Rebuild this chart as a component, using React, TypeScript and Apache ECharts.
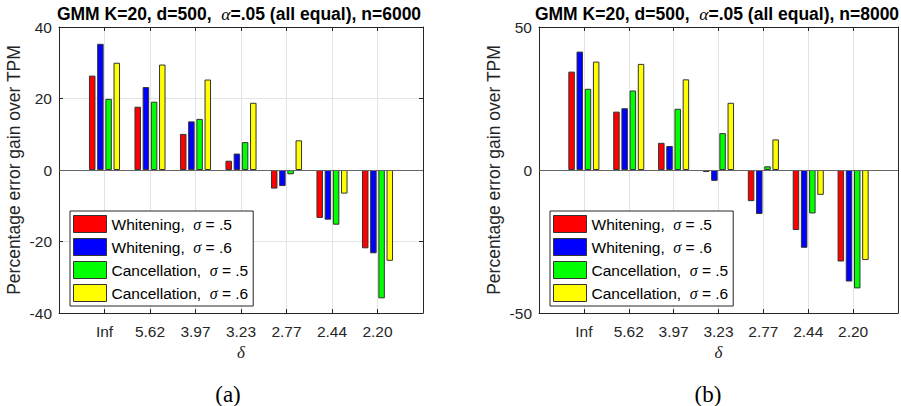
import React, { useEffect, useRef } from "react";
import * as echarts from "echarts";

const categories = ["Inf", "5.62", "3.97", "3.23", "2.77", "2.44", "2.20"];
const seriesNames = ["Whitening, σ = .5", "Whitening, σ = .6", "Cancellation, σ = .5", "Cancellation, σ = .6"];
const seriesColors = ["#ff0000", "#0000ff", "#00ff00", "#ffff00"];

// panel (a): n = 6000
const whitening05_n6000 = [26.4, 17.7, 10.1, 2.6, -5.2, -13.4, -21.9];
const whitening06_n6000 = [35.3, 23.2, 13.6, 4.6, -4.5, -13.9, -23.3];
const cancellation05_n6000 = [19.9, 19.1, 14.3, 7.8, -1.2, -15.3, -35.9];
const cancellation06_n6000 = [30.0, 29.5, 25.3, 18.8, 8.3, -6.6, -25.4];

// panel (b): n = 8000
const whitening05_n8000 = [34.4, 20.4, 9.5, -0.7, -10.9, -21.0, -32.0];
const whitening06_n8000 = [41.4, 21.6, 8.4, -3.8, -15.4, -27.2, -39.0];
const cancellation05_n8000 = [28.4, 27.8, 21.4, 12.9, 1.3, -15.2, -41.4];
const cancellation06_n8000 = [37.9, 37.1, 31.7, 23.5, 10.7, -8.7, -31.5];

const titleA = "GMM K=20, d=500,  {a|α}=.05 (all equal), n=6000";
const titleB = "GMM K=20, d=500,  {a|α}=.05 (all equal), n=8000";
const yAxisTitle = "Percentage error gain over TPM";
const xAxisTitle = "δ";

const SANS = "'Liberation Sans', Arial, Helvetica, sans-serif";
const SERIF = "'Liberation Serif', 'Times New Roman', serif";
const AX = "#262626";
const GRIDC = "#e3e3e3";

export default function App() {
  const ref = useRef<HTMLDivElement>(null);
  useEffect(() => {
    if (!ref.current) return;
    const chart = echarts.init(ref.current, null, { renderer: "svg" });
    const padded = ["", ...categories, ""];
    const panels = [
      { left: 59, ymin: -40, ymax: 40, yint: 20, data: [whitening05_n6000, whitening06_n6000, cancellation05_n6000, cancellation06_n6000], legendLeft: 70 },
      { left: 539, ymin: -50, ymax: 50, yint: 50, data: [whitening05_n8000, whitening06_n8000, cancellation05_n8000, cancellation06_n8000], legendLeft: 550 },
    ];
    const grid: any[] = [];
    const xAxis: any[] = [];
    const yAxis: any[] = [];
    const series: any[] = [];
    const legend: any[] = [];
    panels.forEach((p, g) => {
      grid.push({ left: p.left, top: 27, width: 364, height: 286, containLabel: false });
      xAxis.push({
        gridIndex: g, type: "category", data: padded, boundaryGap: false, position: "bottom",
        axisLine: { onZero: false, lineStyle: { color: AX, width: 1 } },
        axisTick: { inside: true, length: 4, interval: 0, lineStyle: { color: AX } },
        axisLabel: { interval: 0, color: AX, fontSize: 15.5, fontFamily: SANS, margin: 10 },
        splitLine: { show: true, interval: 0, lineStyle: { color: GRIDC, width: 1 } },
        name: xAxisTitle, nameLocation: "middle", nameGap: 31,
        nameTextStyle: { fontFamily: SERIF, fontStyle: "italic", fontSize: 17, color: AX },
      });
      xAxis.push({
        gridIndex: g, type: "category", data: padded, boundaryGap: false, position: "top",
        axisLine: { onZero: false, lineStyle: { color: AX, width: 1 } },
        axisTick: { inside: true, length: 4, interval: 0, lineStyle: { color: AX } },
        axisLabel: { show: false }, splitLine: { show: false },
      });
      yAxis.push({
        gridIndex: g, type: "value", min: p.ymin, max: p.ymax, interval: p.yint, position: "left",
        axisLine: { show: true, onZero: false, lineStyle: { color: AX, width: 1 } },
        axisTick: { show: true, inside: true, length: 4, lineStyle: { color: AX } },
        axisLabel: { color: AX, fontSize: 15.5, fontFamily: SANS, margin: 7 },
        splitLine: { show: true, lineStyle: { color: GRIDC, width: 1 } },
        name: yAxisTitle, nameLocation: "middle", nameGap: 36,
        nameTextStyle: { fontFamily: SANS, fontSize: 17.5, color: AX },
      });
      yAxis.push({
        gridIndex: g, type: "value", min: p.ymin, max: p.ymax, interval: p.yint, position: "right",
        axisLine: { show: true, onZero: false, lineStyle: { color: AX, width: 1 } },
        axisTick: { show: true, inside: true, length: 4, lineStyle: { color: AX } },
        axisLabel: { show: false }, splitLine: { show: false },
      });
      p.data.forEach((vals, i) => {
        const s: any = {
          type: "bar", name: seriesNames[i], xAxisIndex: g * 2, yAxisIndex: g * 2,
          data: [null, ...vals, null], barWidth: 6.5, barGap: "26%",
          itemStyle: { color: seriesColors[i], borderColor: "#333", borderWidth: 1 },
        };
        if (i === 0) {
          s.markLine = {
            silent: true, symbol: "none", label: { show: false },
            lineStyle: { color: "#666", width: 1, type: "solid" },
            data: [{ yAxis: 0 }],
          };
        }
        series.push(s);
      });
      legend.push({
        left: p.legendLeft, top: 211, orient: "vertical", data: seriesNames, icon: "rect",
        itemWidth: 33, itemHeight: 17, itemGap: 5, padding: [4, 5, 4, 3],
        borderColor: AX, borderWidth: 1, backgroundColor: "#fff", selectedMode: false,
        itemStyle: { borderColor: "#333", borderWidth: 1 },
        formatter: (name: string) => name.replace(", σ", ",  {s|σ}"),
        textStyle: {
          fontFamily: SANS, fontSize: 15.5, color: "#000",
          rich: { s: { fontFamily: SERIF, fontStyle: "italic", fontSize: 16, color: "#000" } },
        },
      });
    });
    chart.setOption({
      animation: false,
      backgroundColor: "#fff",
      grid, xAxis, yAxis, series, legend,
      graphic: [
        {
          type: "text", x: 239, y: 14,
          style: {
            text: titleA, align: "center", verticalAlign: "middle", fill: "#000",
            fontFamily: SANS, fontWeight: "bold", fontSize: 17.5,
            rich: { a: { fontFamily: SERIF, fontStyle: "italic", fontWeight: "normal", fontSize: 17.5, fill: "#000" } },
          },
        },
        {
          type: "text", x: 717, y: 14,
          style: {
            text: titleB, align: "center", verticalAlign: "middle", fill: "#000",
            fontFamily: SANS, fontWeight: "bold", fontSize: 17.5,
            rich: { a: { fontFamily: SERIF, fontStyle: "italic", fontWeight: "normal", fontSize: 17.5, fill: "#000" } },
          },
        },
        { type: "text", x: 228, y: 394, style: { text: "(a)", align: "center", verticalAlign: "middle", fill: "#000", fontFamily: SERIF, fontSize: 23 } },
        { type: "text", x: 708, y: 394, style: { text: "(b)", align: "center", verticalAlign: "middle", fill: "#000", fontFamily: SERIF, fontSize: 23 } },
      ],
    });
    return () => chart.dispose();
  }, []);
  return <div ref={ref} style={{ position: "fixed", left: 0, top: 0, width: 901, height: 406 }} />;
}
